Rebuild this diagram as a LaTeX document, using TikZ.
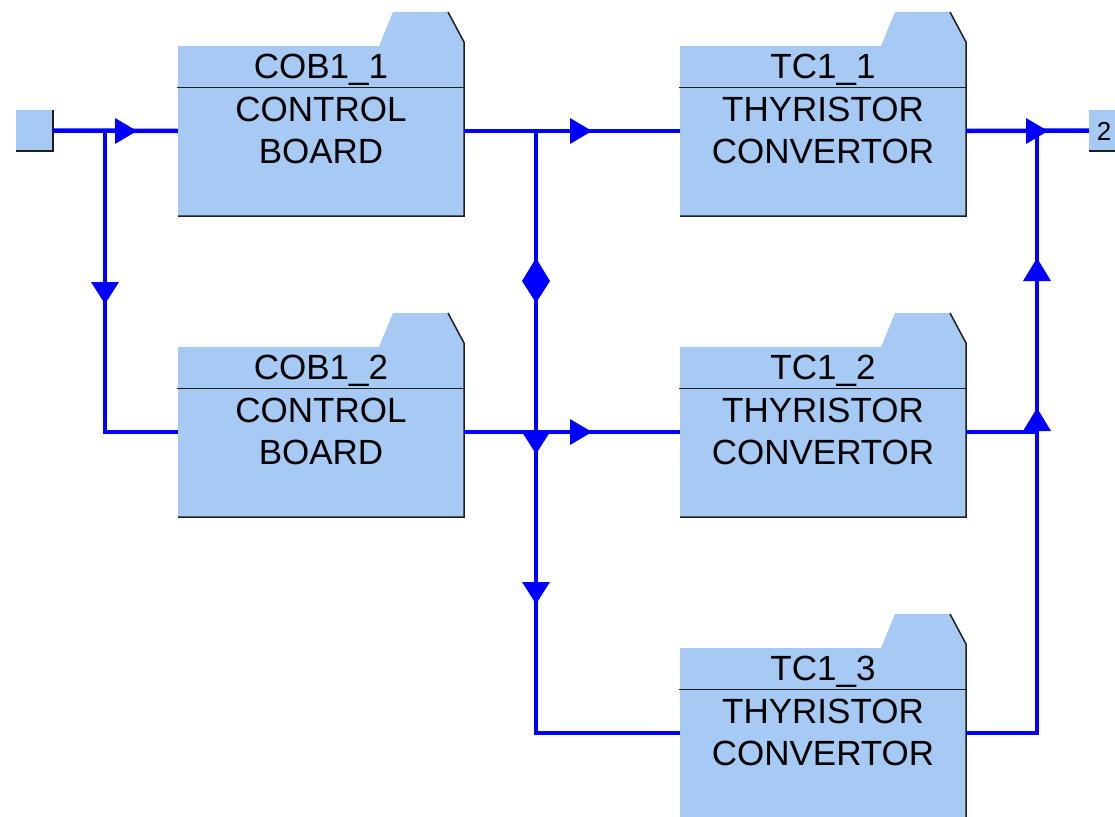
\documentclass[tikz,border=0pt]{standalone}
\usepackage{fontspec}
\setmainfont{Liberation Sans}
\definecolor{boxfill}{RGB}{166,202,244}
\definecolor{wirecol}{RGB}{0,0,255}
\definecolor{edge}{RGB}{30,30,30}
\tikzset{
  body/.style={rectangle, fill=boxfill, minimum width=286pt, minimum height=170pt, inner sep=0pt},
  lbl/.style={inner sep=0pt, anchor=base, font=\fontsize{35}{42}\selectfont},
  port/.style={rectangle, fill=boxfill, minimum width=37pt, minimum height=41pt, inner sep=0pt},
  wireline/.style={draw=wirecol, line width=4.5pt},
  tip/.style={fill=wirecol, draw=none},
  outline/.style={draw=edge, line width=1.5pt},
  divider/.style={draw=edge, line width=1pt}
}
% #1 name, #2 centre x, #3 body top y, #4 title, #5 line1, #6 line2
\newcommand\folderbox[6]{%
  \node[body] (#1) at (#2,#3+85) {};
  \fill[boxfill] (#2+58,#3) -- (#2+72,#3-34) -- (#2+127,#3-34) -- (#2+143,#3-4) -- (#2+143,#3) -- cycle;
  \draw[outline] (#2+127,#3-34) -- (#2+143,#3-4) -- (#2+143,#3+170) -- (#2-143,#3+170);
  \draw[divider] (#2-144,#3+41) -- (#2+143,#3+41);
  \node[lbl] (#1-t) at (#2,#3+32) {#4};
  \node[lbl] (#1-a) at (#2,#3+75) {#5};
  \node[lbl] (#1-b) at (#2,#3+117) {#6};
}
\newcommand\rarr[2]{\path[tip] (#1,#2-13) -- (#1+22,#2) -- (#1,#2+13) -- cycle;}
\newcommand\darr[2]{\path[tip] (#1-14,#2) -- (#1,#2+22) -- (#1+14,#2) -- cycle;}
\newcommand\uarr[2]{\path[tip] (#1-14,#2) -- (#1,#2-23) -- (#1+14,#2) -- cycle;}
\begin{document}
\begin{tikzpicture}[x=1pt,y=-1pt]
\useasboundingbox (0,0) rectangle (1115,816);
\clip (0,0) rectangle (1115,816);
\fill[white] (0,0) rectangle (1115,816);

\folderbox{cob1}{321}{46}{COB1\_1}{CONTROL}{BOARD}
\folderbox{cob2}{321}{347}{COB1\_2}{CONTROL}{BOARD}
\folderbox{tc1}{823}{46}{TC1\_1}{THYRISTOR}{CONVERTOR}
\folderbox{tc2}{823}{347}{TC1\_2}{THYRISTOR}{CONVERTOR}
\folderbox{tc3}{823}{648}{TC1\_3}{THYRISTOR}{CONVERTOR}

\node[port] (in) at (34.5,130.5) {};
\draw[outline] (in.north east) -- (in.south east) -- (in.south west);
\node[port, minimum width=40pt] (out) at (1109,130.5) {};
\node[inner sep=0pt, font=\fontsize{26}{28}\selectfont] (outlbl) at (1104,131) {2};
\draw[outline] (out.south west) -- (out.south east);

\coordinate (j1) at (105,131);
\coordinate (c1) at (105,432);
\coordinate (j2) at (536,131);
\coordinate (c2) at (536,733);
\coordinate (j4) at (1037,131);
\coordinate (j5) at (1037,432);
\coordinate (c3) at (1037,733);

\draw[wireline] (in.east) -- (cob1.west);
\draw[wireline] (j1) -- (c1) -- (cob2.west);
\draw[wireline] (cob1.east) -- (tc1.west);
\draw[wireline] (j2) -- (c2) -- (tc3.west);
\draw[wireline] (cob2.east) -- (tc2.west);
\draw[wireline] (tc3.east) -- (c3) -- (j4);
\draw[wireline] (tc2.east) -- (j5);
\draw[wireline] (tc1.east) -- (out.west);

\rarr{115}{131}
\rarr{570}{131}
\rarr{570}{432}
\rarr{1026}{131}
\darr{105}{282}
\darr{536}{432}
\darr{536}{582}
\uarr{1037}{281}
\uarr{1037}{431}
\path[tip] (536,258) -- (550,281) -- (536,303) -- (522,281) -- cycle;
\end{tikzpicture}
\end{document}
